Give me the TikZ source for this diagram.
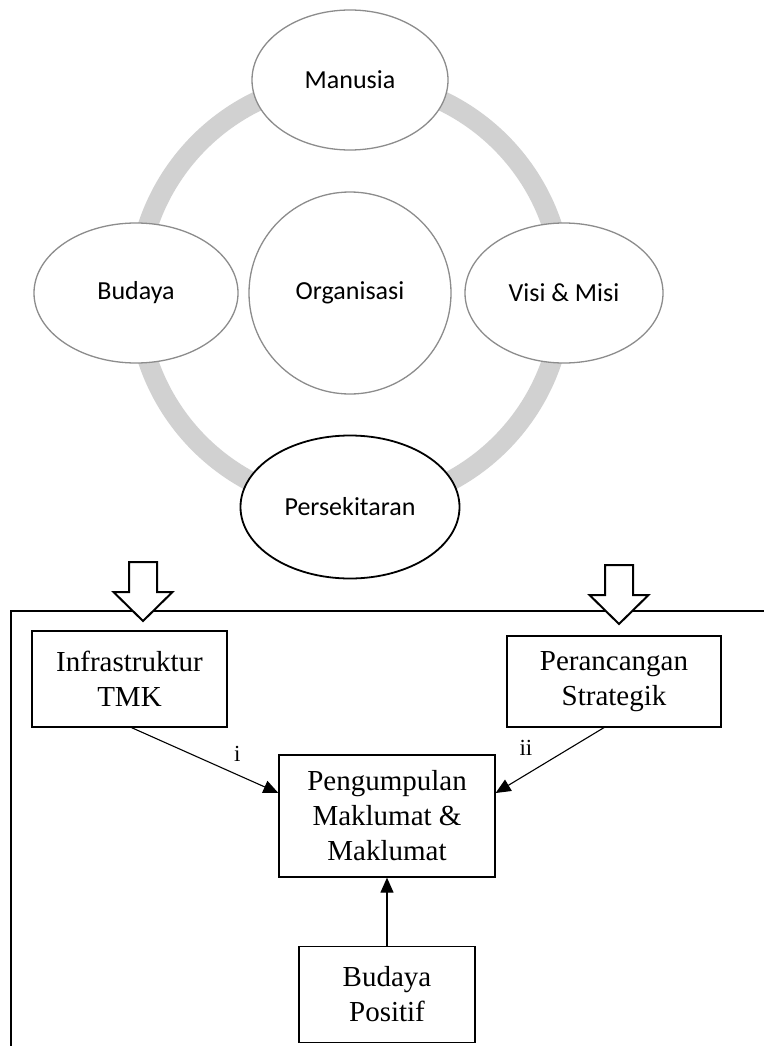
\documentclass[tikz,border=0pt]{standalone}
\usepackage{fontspec}
\setmainfont{Liberation Serif}
\newfontfamily\calibrifont{Carlito}
\usetikzlibrary{arrows.meta,positioning,shapes.geometric}

\begin{document}
\begin{tikzpicture}[x=1pt, y=-1pt, >={Triangle[length=15pt,width=13pt]}, node distance=68pt,
  oval/.style={ellipse, draw=black!45, line width=1.3pt, fill=white, inner sep=0pt, font=\calibrifont\fontsize{26}{31}\selectfont},
  ring/.style={draw=black!18, line width=20pt},
  blk/.style={draw, line width=1.2pt, inner sep=0pt, align=center, font=\fontsize{29}{35}\selectfont},
  lab/.style={font=\fontsize{23}{27}\selectfont, inner sep=1pt},
  hollow/.style={draw, line width=2pt, fill=white, line join=miter},
  link/.style={->, line width=1.1pt}]
\useasboundingbox (0,0) rectangle (764,1046);
% ring of factors
\coordinate (mid) at (350,293);
\draw[ring] (mid) circle (213);
\node[oval, minimum width=202pt, minimum height=202pt] (org) at (mid) {Organisasi};
\node[oval, minimum width=196pt, minimum height=140pt] (man) at (350,80) {Manusia};
\node[oval, minimum width=204pt, minimum height=140pt] (bud) at (136,293) {Budaya};
\node[oval, minimum width=198pt, minimum height=140pt] (visi) at (564,293) {Visi \& Misi};
\node[oval, draw=black, line width=1.8pt, minimum width=219pt, minimum height=143pt] (pers) at (350,507) {Persekitaran};
% frame
\coordinate (fa) at (11,1046);
\coordinate (fb) at (11,611);
\coordinate (fc) at (764,611);
\draw[line width=2.2pt] (fa) -- (fb) -- (fc);
\foreach \x/\y in {143/562, 619/565}
  \draw[hollow] (\x-14,\y) -- (\x+14,\y) -- (\x+14,\y+30) -- (\x+29.5,\y+30) -- (\x,\y+59)
    -- (\x-29.5,\y+30) -- (\x-14,\y+30) -- cycle;
% boxes
\node[blk, minimum width=195pt, minimum height=96pt] (infra) at (129.5,679) {Infrastruktur\\TMK};
\node[blk, minimum width=214pt, minimum height=91pt] (pera) at (614,681.5) {Perancangan\\Strategik};
\node[blk, minimum width=216pt, minimum height=122pt] (peng) at (387,816) {Pengumpulan\\Maklumat \&\\Maklumat};
\node[blk, minimum width=176pt, minimum height=96pt, below=68pt of peng] (posi) {Budaya\\Positif};
\draw[link] ([xshift=2pt]infra.south) -- node[lab, pos=0.72, yshift=21pt]{i} ([yshift=23pt]peng.west);
\draw[link] ([xshift=-10pt]pera.south) -- node[lab, pos=0.72, yshift=27pt]{ii} ([yshift=23pt]peng.east);
\draw[link] (posi) -- (peng);
\end{tikzpicture}
\end{document}
